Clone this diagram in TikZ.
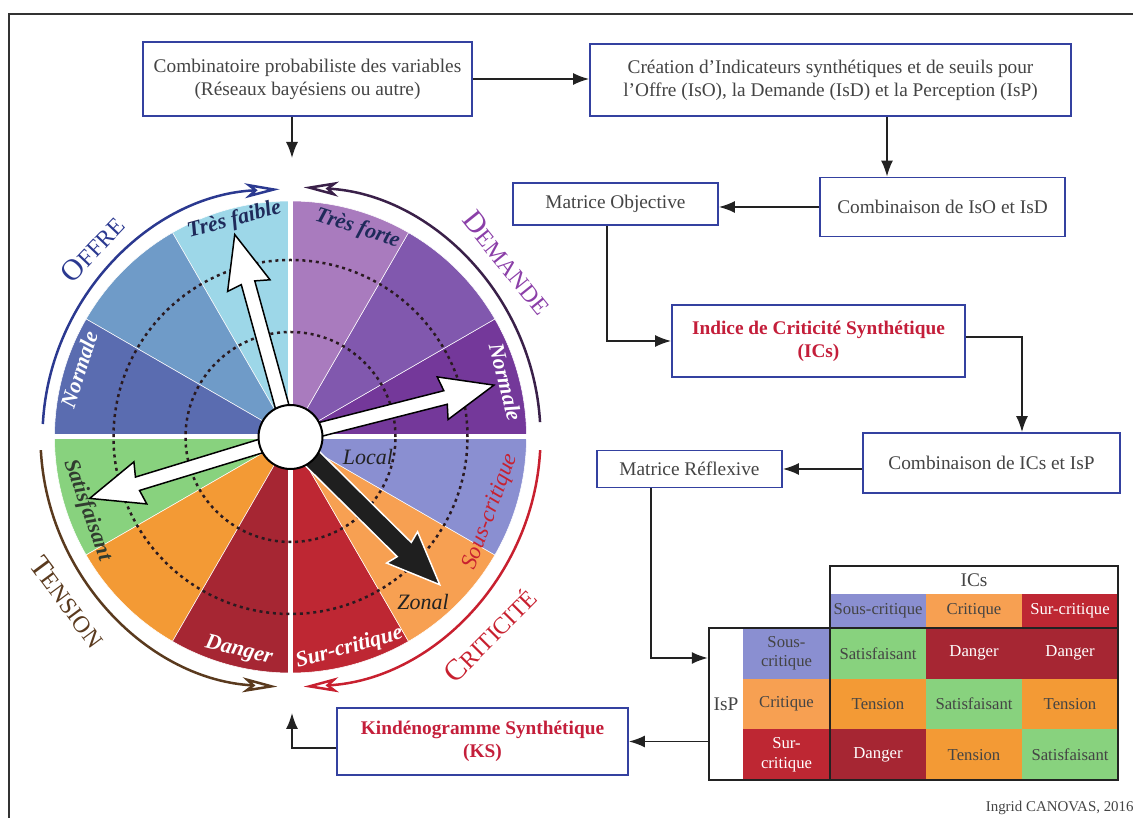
\documentclass[tikz,border=0pt]{standalone}
\usepackage{fontspec}
\setmainfont{Liberation Serif}
\usepackage{tikz}
\usetikzlibrary{arrows.meta,positioning}
\usepackage{xcolor}
\definecolor{boxblue}{HTML}{3441A0}
\definecolor{textgray}{HTML}{444444}
\definecolor{keyred}{HTML}{C41E3A}
\definecolor{framegray}{HTML}{333333}
\definecolor{tabdark}{HTML}{222222}
\definecolor{offreblue}{HTML}{2B3990}
\definecolor{demandearc}{HTML}{3A2049}
\definecolor{demandetxt}{HTML}{8B3FA8}
\definecolor{tensionbrown}{HTML}{5A3A1E}
\definecolor{critred}{HTML}{C8202F}
\definecolor{navylabel}{HTML}{1F2A5A}
\definecolor{tfaible}{HTML}{9DD7E8}
\definecolor{offmid}{HTML}{6F9BC8}
\definecolor{offnorm}{HTML}{5A6CB0}
\definecolor{tforte}{HTML}{A97BBE}
\definecolor{demmid}{HTML}{8158AE}
\definecolor{demnorm}{HTML}{74389A}
\definecolor{sousc}{HTML}{8A8FD1}
\definecolor{critc}{HTML}{F7A052}
\definecolor{surc}{HTML}{BE2733}
\definecolor{satisf}{HTML}{88D27E}
\definecolor{tensc}{HTML}{F39A35}
\definecolor{dangc}{HTML}{A62633}
\definecolor{dotdark}{HTML}{2A1A20}
\newcommand{\capword}[2]{{\fontsize{17}{19}\selectfont #1}{\fontsize{13.5}{15}\selectfont #2}}

\begin{document}
\begin{tikzpicture}[
  x=0.02cm, y=0.02cm,
  box/.style={draw=boxblue, line width=1.1pt, fill=white, align=center, text=textgray, font=\fontsize{11}{13}\selectfont, inner sep=2pt},
  keybox/.style={text=keyred, font=\fontsize{11}{13}\selectfont\bfseries},
  arrow/.style={-{Latex[length=3.2mm,width=2.4mm]}, line width=0.9pt, draw=tabdark},
  cell/.style={minimum width=1.92cm, minimum height=1.0133cm, inner sep=0pt, align=center, text=textgray, font=\fontsize{9.5}{11}\selectfont},
  hdr/.style={minimum height=0.68cm},
  rowhdr/.style={minimum width=1.74cm},
  tabline/.style={draw=tabdark, line width=0.05cm},
  sector/.style={draw=white, line width=0.3pt},
  outarc/.style={line width=0.05cm, -{Stealth[open, length=0.7cm, width=0.3cm, inset=0.18cm]}},
  ringdot/.style={draw=dotdark, line width=0.05cm, dash pattern=on 0.06cm off 0.075cm},
  wlabel/.style={font=\fontsize{12.5}{14}\selectfont\bfseries\itshape},
  arclabel/.style={inner sep=0pt},
  blockarr/.pic={\draw[pic actions, line width=0.03cm] (0,-#1) -- (160,-#1) -- (157,-22) -- (210,0) -- (157,22) -- (160,#1) -- (0,#1) -- cycle;}
]
\useasboundingbox (0,0) rectangle (1133,818);
\draw[framegray, line width=0.04cm] (1133,804) -- (9,804) -- (9,0);

% flow boxes
\node[box, minimum width=6.58cm, minimum height=1.48cm] (comb) at (307.5,739) {Combinatoire probabiliste des variables\\(Réseaux bayésiens ou autre)};
\node[box, minimum width=9.62cm, minimum height=1.44cm] (crea) at (830.5,738) {Création d’Indicateurs synthétiques et de seuils pour\\l’Offre (IsO), la Demande (IsD) et la Perception (IsP)};
\node[box, minimum width=4.1cm, minimum height=0.84cm] (matobj) at (615.5,614) {Matrice Objective};
\node[box, minimum width=4.9cm, minimum height=1.18cm] (combiso) at (942.5,611) {Combinaison de IsO et IsD};
\node[box, keybox, minimum width=5.86cm, minimum height=1.44cm] (ics) at (818.5,477) {Indice de Criticité Synthétique\\(ICs)};
\node[box, minimum width=5.14cm, minimum height=1.2cm] (combics) at (991.5,355) {Combinaison de ICs et IsP};
\node[box, minimum width=3.7cm, minimum height=0.74cm] (matref) at (689.5,349) {Matrice Réflexive};
\node[box, keybox, minimum width=5.82cm, minimum height=1.34cm] (ks) at (482.5,76.5) {Kindénogramme Synthétique\\(KS)};

% matrix
\node[cell, hdr, minimum width=5.76cm, minimum height=0.56cm, font=\fontsize{11}{13}\selectfont] (hics) at (974,238) {ICs};
\node[cell, hdr, fill=sousc] (hsous) at (878,207) {Sous-critique};
\node[cell, hdr, fill=critc] (hcrit) at (974,207) {Critique};
\node[cell, hdr, fill=surc, text=white] (hsur) at (1070,207) {Sur-critique};
\node[cell, rowhdr, fill=sousc] (rsous) at (786.5,164.67) {Sous-\\critique};
\node[cell, rowhdr, fill=critc] (rcrit) at (786.5,114) {Critique};
\node[cell, rowhdr, fill=surc, text=white] (rsur) at (786.5,63.33) {Sur-\\critique};
\node[text=textgray, font=\fontsize{11}{13}\selectfont] (lisp) at (726,114) {IsP};
\node[cell, fill=satisf] (c11) at (878,164.67) {Satisfaisant};
\node[cell, fill=dangc, text=white] (c12) at (974,164.67) {Danger};
\node[cell, fill=dangc, text=white] (c13) at (1070,164.67) {Danger};
\node[cell, fill=tensc] (c21) at (878,114) {Tension};
\node[cell, fill=satisf] (c22) at (974,114) {Satisfaisant};
\node[cell, fill=tensc] (c23) at (1070,114) {Tension};
\node[cell, fill=dangc, text=white] (c31) at (878,63.33) {Danger};
\node[cell, fill=tensc] (c32) at (974,63.33) {Tension};
\node[cell, fill=satisf] (c33) at (1070,63.33) {Satisfaisant};
\node[tabline, minimum width=2.42cm, minimum height=3.04cm, inner sep=0pt] (isp) at (769.5,114) {};
\draw[tabline] (830,38) rectangle (1118,190);
\draw[tabline] (830,190) rectangle (1118,252);

\node[anchor=east, inner sep=0pt, text=textgray, font=\fontsize{8.5}{10}\selectfont] (credit) at (1134,10) {Ingrid CANOVAS, 2016};

% wheel
\begin{scope}[shift={(290.5,381)}]
\filldraw[sector, fill=tfaible] (0,0) -- (90:236) arc (90:120:236) -- cycle;
\filldraw[sector, fill=offmid] (0,0) -- (120:236) arc (120:150:236) -- cycle;
\filldraw[sector, fill=offnorm] (0,0) -- (150:236) arc (150:180:236) -- cycle;
\filldraw[sector, fill=demnorm] (0,0) -- (0:236) arc (0:30:236) -- cycle;
\filldraw[sector, fill=demmid] (0,0) -- (30:236) arc (30:60:236) -- cycle;
\filldraw[sector, fill=tforte] (0,0) -- (60:236) arc (60:90:236) -- cycle;
\filldraw[sector, fill=satisf] (0,0) -- (180:236) arc (180:210:236) -- cycle;
\filldraw[sector, fill=tensc] (0,0) -- (210:236) arc (210:240:236) -- cycle;
\filldraw[sector, fill=dangc] (0,0) -- (240:236) arc (240:270:236) -- cycle;
\filldraw[sector, fill=surc] (0,0) -- (270:236) arc (270:300:236) -- cycle;
\filldraw[sector, fill=critc] (0,0) -- (300:236) arc (300:330:236) -- cycle;
\filldraw[sector, fill=sousc] (0,0) -- (330:236) arc (330:360:236) -- cycle;
\draw[white, line width=0.1cm] (0,-238) -- (0,238);
\draw[white, line width=0.1cm] (-238,0) -- (238,0);
\draw[ringdot] (0,0) circle (105);
\draw[ringdot] (0,0) circle (177);

\draw[offreblue, outarc] (177:248) arc (177:92.5:248);
\draw[demandearc, outarc] (3.4:250) arc (3.4:87:250);
\draw[tensionbrown, outarc] (183:250) arc (183:267:250);
\draw[critred, outarc] (-3:250) arc (-3:-87:250);

\node[arclabel, text=offreblue, rotate=46.5] (loffre) at (136.5:273) {\capword{O}{FFRE}};
\node[arclabel, text=demandetxt, rotate=-51.2] (ldemande) at (38.8:278) {\capword{D}{EMANDE}};
\node[arclabel, text=tensionbrown, rotate=-53.5] (ltension) at (216.5:277) {\capword{T}{ENSION}};
\node[arclabel, text=critred, rotate=45.2] (lcrit) at (-44.8:281) {\capword{C}{RITICITÉ}};

\node[wlabel, text=navylabel, rotate=15.2] (ltfaible) at (104.5:224) {Très faible};
\node[wlabel, text=white, rotate=72.3] (lonorm) at (162.3:222) {Normale};
\node[wlabel, text=navylabel, rotate=-17.8] (ltforte) at (72.2:219) {Très forte};
\node[wlabel, text=white, rotate=-75.7] (ldnorm) at (14.3:222) {Normale};
\node[wlabel, text=tabdark!85!satisf, rotate=-70.2] (lsatisf) at (199.8:216) {Satisfaisant};
\node[wlabel, text=white, rotate=-13.6] (ldanger) at (256.4:220) {Danger};
\node[wlabel, text=white, rotate=15.6] (lsur) at (-74.4:219) {Sur-critique};
\node[wlabel, text=critred, font=\fontsize{13}{15}\selectfont\itshape, rotate=69.5] (lsous) at (-20.5:214) {Sous-critique};
\node[text=tabdark, font=\fontsize{12.5}{14}\selectfont\itshape] (llocal) at (77.5,-20) {Local};
\node[text=tabdark, font=\fontsize{12.5}{14}\selectfont\itshape] (lzonal) at (132.5,-165) {Zonal};

\pic[rotate=105.4, fill=white, draw=black] at (0,0) {blockarr=7};
\pic[rotate=14.3, fill=white, draw=black] at (0,0) {blockarr=7};
\pic[rotate=197, fill=white, draw=black] at (0,0) {blockarr=7};
\pic[rotate=-44.7, fill=black!88, draw=white] at (0,0) {blockarr=10};
\draw[fill=white, line width=0.04cm] (0,0) circle (32);
\end{scope}

\coordinate (wtop) at (292,660);
\coordinate (wbot) at (292,105);
\coordinate (cdrop) at (887,0);
\coordinate (tin) at (0,160);

\draw[arrow] (comb.east) -- (comb.east -| crea.west);
\draw[arrow] (comb.south -| wtop) -- (wtop);
\draw[arrow] (crea.south -| cdrop) -- (combiso.north -| cdrop);
\draw[arrow] (combiso.west) -- (combiso.west -| matobj.east);
\draw[arrow] ([xshift=-0.17cm]matobj.south) |- (ics.west);
\draw[arrow] ([yshift=0.08cm]ics.east) -| ([xshift=0.61cm]combics.north);
\draw[arrow] (combics.west |- matref.east) -- (matref.east);
\draw[arrow] ([xshift=-0.77cm]matref.south) |- (isp.west |- tin);
\draw[arrow] (isp.west |- ks.east) -- (ks.east);
\draw[arrow] ([yshift=-0.13cm]ks.west) -| (wbot);
\end{tikzpicture}
\end{document}
